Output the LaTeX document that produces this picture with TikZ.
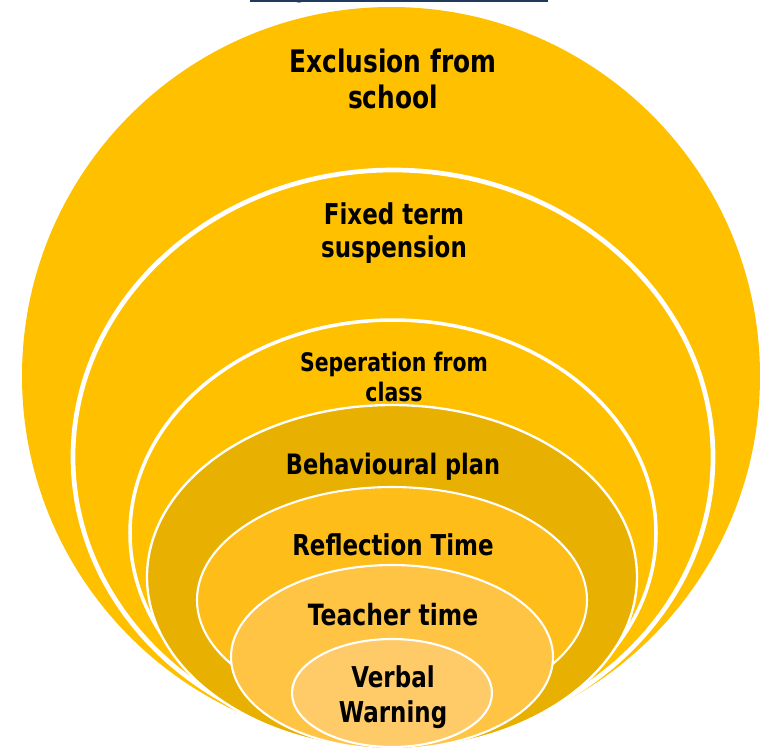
\documentclass[tikz,border=0pt]{standalone}
\usepackage{fontspec}
\newfontfamily\lblfont{DejaVu Sans}[FakeStretch=0.8]
\definecolor{gold}{HTML}{FFC000}
\definecolor{darkgold}{HTML}{E8B000}
\definecolor{reflgold}{HTML}{FEBD18}
\definecolor{teachgold}{HTML}{FFC444}
\definecolor{verbgold}{HTML}{FFCB69}
\definecolor{navy}{HTML}{1F3A5C}
\tikzset{
  ring/.style={draw=white, line width=#1},
  lbl/.style={font=\lblfont\bfseries, align=center, text=black, inner sep=0pt}
}
\begin{document}
\begin{tikzpicture}[x=0.03cm, y=-0.03cm]
  \useasboundingbox (0,0) rectangle (760,747);
  \fill[white] (0,0) rectangle (760,747);

  % top rule (cut off)
  \fill[navy] (250,0) rectangle (548,1.8);
  \fill[navy] (299,0) ellipse [x radius=5, y radius=2.6];

  % nested levels, outermost first
  \fill[gold] (391,376) ellipse [x radius=369, y radius=369];
  \fill[gold, ring=4pt] (393,457) ellipse [x radius=320, y radius=287];
  \fill[gold, ring=3pt] (393,533) ellipse [x radius=263, y radius=213];
  \fill[darkgold, ring=2pt] (392,577) ellipse [x radius=245, y radius=172];
  \fill[reflgold, ring=1.8pt] (392,600) ellipse [x radius=195, y radius=113];
  \fill[teachgold, ring=1.8pt] (392,657) ellipse [x radius=161, y radius=92];
  \fill[verbgold, ring=1.8pt] (392,693) ellipse [x radius=100, y radius=54];

  \node[lbl, font=\lblfont\bfseries\fontsize{26.5}{30.6}\selectfont] (exclusion) at (393,79) {Exclusion from\\school};
  \node[lbl, font=\lblfont\bfseries\fontsize{24.5}{28}\selectfont] (fixed) at (394,233) {Fixed term\\suspension};
  \node[lbl, font=\lblfont\bfseries\fontsize{21.8}{25.5}\selectfont] (separation) at (394,377) {Seperation from\\class};
  \node[lbl, font=\lblfont\bfseries\fontsize{24}{29}\selectfont] (plan) at (393,467) {Behavioural plan};
  \node[lbl, font=\lblfont\bfseries\fontsize{24.5}{29}\selectfont] (reflection) at (393,545) {Reflection Time};
  \node[lbl, font=\lblfont\bfseries\fontsize{25}{29}\selectfont] (teacher) at (393,615) {Teacher time};
  \node[lbl, font=\lblfont\bfseries\fontsize{24.5}{29.8}\selectfont] (verbal) at (393,697) {Verbal\\Warning};
\end{tikzpicture}
\end{document}
